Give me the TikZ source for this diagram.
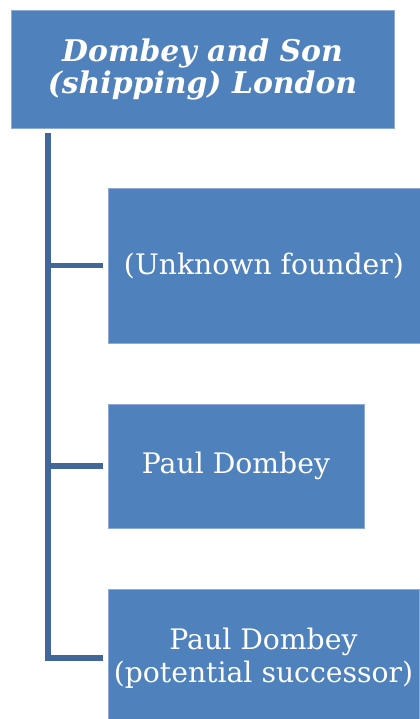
\documentclass[tikz,border=0pt]{standalone}
\usepackage{fontspec}
\setmainfont{DejaVu Serif}
\usepackage{tikz}

\definecolor{boxblue}{HTML}{4F81BD}
\definecolor{edgeblue}{HTML}{8EAAD6}
\definecolor{linkblue}{HTML}{41679A}

\tikzset{
  box/.style={fill=boxblue, draw=edgeblue, line width=0.6pt, text=white, align=center},
  link/.style={draw=linkblue, line width=3.8pt}
}

\begin{document}
\begin{tikzpicture}[x=0.75pt, y=-0.75pt]
    \useasboundingbox (0,0) rectangle (419,719);
    % head of the list
    \node[box, minimum width=383*0.75pt, minimum height=118*0.75pt,
          font=\fontsize{22.4}{24}\selectfont\bfseries\itshape] (firm) at (202.5,69)
          {Dombey and Son\\(shipping) London};
    % members
    \node[box, minimum width=312*0.75pt, minimum height=155*0.75pt,
          font=\fontsize{21.2}{23}\selectfont] (founder) at (264,265.5) {(Unknown founder)};
    \node[box, minimum width=256*0.75pt, minimum height=124*0.75pt,
          font=\fontsize{21.2}{23}\selectfont] (paul) at (236,466) {Paul Dombey};
    \node[box, minimum width=311*0.75pt, minimum height=138*0.75pt,
          font=\fontsize{21.2}{24.5}\selectfont] (successor) at (263.5,658) {Paul Dombey\\(potential successor)};
    % connectors
    \coordinate (trunk) at (48,133);
    \draw[link] (trunk) |- ([xshift=-3.75pt]successor.west);
    \foreach \n in {founder,paul}
        \draw[link] (trunk |- \n.west) -- ([xshift=-3.75pt]\n.west);
\end{tikzpicture}
\end{document}
